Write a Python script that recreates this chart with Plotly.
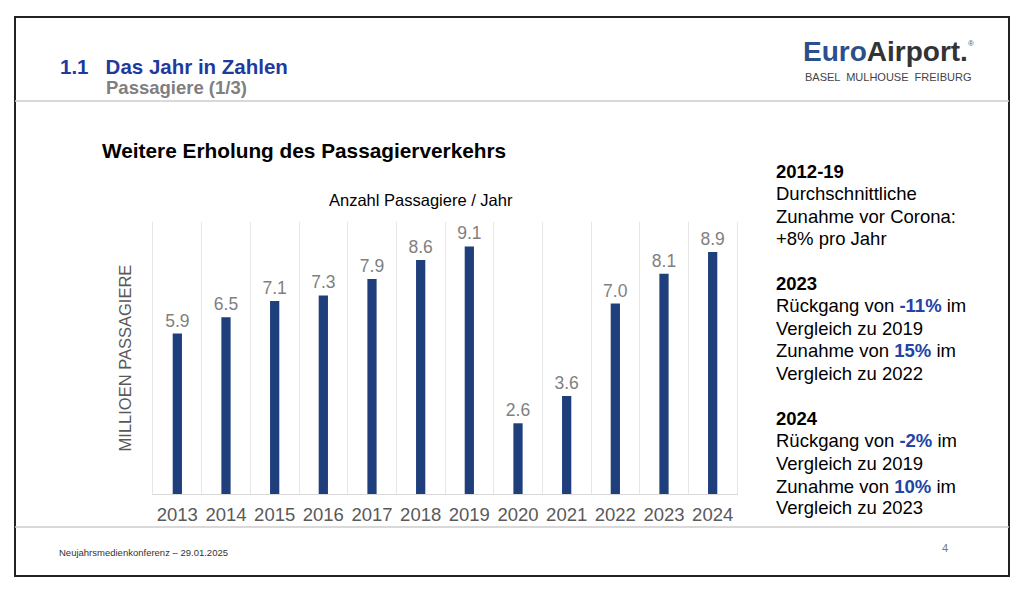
import plotly.graph_objects as go

years = [2013, 2014, 2015, 2016, 2017, 2018, 2019, 2020, 2021, 2022, 2023, 2024]
passengers = [5.9, 6.5, 7.1, 7.3, 7.9, 8.6, 9.1, 2.6, 3.6, 7.0, 8.1, 8.9]
labels = [f"{v:.1f}" for v in passengers]

OFF = 8  # default page margin of the html body
W, H = 1024 - OFF, 590 - OFF
BAR = "#1F3F7C"
BLUE = "#2244A6"
GRAY = "#7F7F7F"
FONT = "Liberation Sans, Arial, sans-serif"

def py(y):
    return 1 - (y - OFF) / H

def px(x):
    return (x - OFF) / W

fig = go.Figure()
fig.add_trace(go.Bar(
    x=years, y=passengers, text=labels, textposition="outside",
    textfont=dict(size=17.5, color=GRAY, family=FONT),
    constraintext="none",
    marker=dict(color=BAR, line=dict(width=0)),
    width=0.19, cliponaxis=False, hoverinfo="skip",
))

fig.update_layout(
    width=W, height=H, margin=dict(l=0, r=0, t=0, b=0),
    paper_bgcolor="white", plot_bgcolor="white", showlegend=False,
    font=dict(family=FONT),
    xaxis=dict(
        domain=[px(153), px(737)], range=[2012.5, 2024.5],
        tickvals=years, ticktext=[str(y) for y in years],
        tickfont=dict(size=18.5, color="#595959", family=FONT),
        ticklabelstandoff=4,
        showgrid=False, ticks="", ticklen=0,
        showline=True, linecolor="#D9D9D9", linewidth=1,
        minor=dict(tick0=2012.5, dtick=1, showgrid=True, gridcolor="#E6E6E6", gridwidth=1, ticks=""),
        zeroline=False,
    ),
    yaxis=dict(
        domain=[py(494), py(222)], range=[0, 10],
        showgrid=False, showticklabels=False, zeroline=False, ticks="",
        showline=True, mirror=True, linecolor="#E6E6E6", linewidth=1,
        title=dict(text="MILLIOEN PASSAGIERE", font=dict(size=16.5, color="#595959"), standoff=16),
    ),
)

shapes = [
    dict(type="rect", xref="paper", yref="paper", x0=px(15), x1=px(1009), y0=py(576), y1=py(17),
         line=dict(color="#222222", width=2)),
    dict(type="line", xref="paper", yref="paper", x0=px(15), x1=px(1009), y0=py(101), y1=py(101),
         line=dict(color="#CCCCCC", width=1.5)),
    dict(type="line", xref="paper", yref="paper", x0=px(15), x1=px(1009), y0=py(527), y1=py(527),
         line=dict(color="#CCCCCC", width=1.5)),
]
fig.update_layout(shapes=shapes)

ann = []
def text(x, y, s, size, color="#000000", anchor="left", bold=False):
    if bold:
        s = f"<b>{s}</b>"
    ann.append(dict(xref="paper", yref="paper", x=px(x), y=py(y), text=s, showarrow=False,
                    xanchor=anchor, yanchor="middle", align="left",
                    font=dict(size=size, color=color, family=FONT)))

text(58, 67, "1.1&nbsp;&nbsp;&nbsp;Das Jahr in Zahlen", 20.5, "#1F3A9E", bold=True)
text(104, 88, "Passagiere (1/3)", 18.5, "#7F7F7F", bold=True)
text(801, 52, "<b><span style='color:#2B4F8E'>Euro</span><span style='color:#333333'>Airport.</span></b>", 28, "#333333")
text(966, 43, "®", 8, "#555555")
text(803, 77, "BASEL  MULHOUSE  FREIBURG", 11, "#444444")

text(100, 150, "Weitere Erholung des Passagierverkehrs", 20.8, "#000000", bold=True)
text(421, 200, "Anzahl Passagiere / Jahr", 16.5, "#000000", anchor="center")

hl = lambda s: f"<b><span style='color:{BLUE}'>{s}</span></b>"
right_lines = [
    (171, "<b>2012-19</b>"),
    (193, "Durchschnittliche"),
    (216, "Zunahme vor Corona:"),
    (239, "+8% pro Jahr"),
    (283, "<b>2023</b>"),
    (305, f"Rückgang von {hl('-11%')} im"),
    (328, "Vergleich zu 2019"),
    (350, f"Zunahme von {hl('15%')} im"),
    (373, "Vergleich zu 2022"),
    (418, "<b>2024</b>"),
    (440, f"Rückgang von {hl('-2%')} im"),
    (463, "Vergleich zu 2019"),
    (486, f"Zunahme von {hl('10%')} im"),
    (508, "Vergleich zu 2023"),
]
for y, s in right_lines:
    text(774, y, s, 18.5, "#000000")

text(57, 552, "Neujahrsmedienkonferenz – 29.01.2025", 9.5, "#333333")
text(945, 548, "4", 11, "#777777", anchor="center")

fig.update_layout(annotations=ann)
fig.write_html("out.html")
